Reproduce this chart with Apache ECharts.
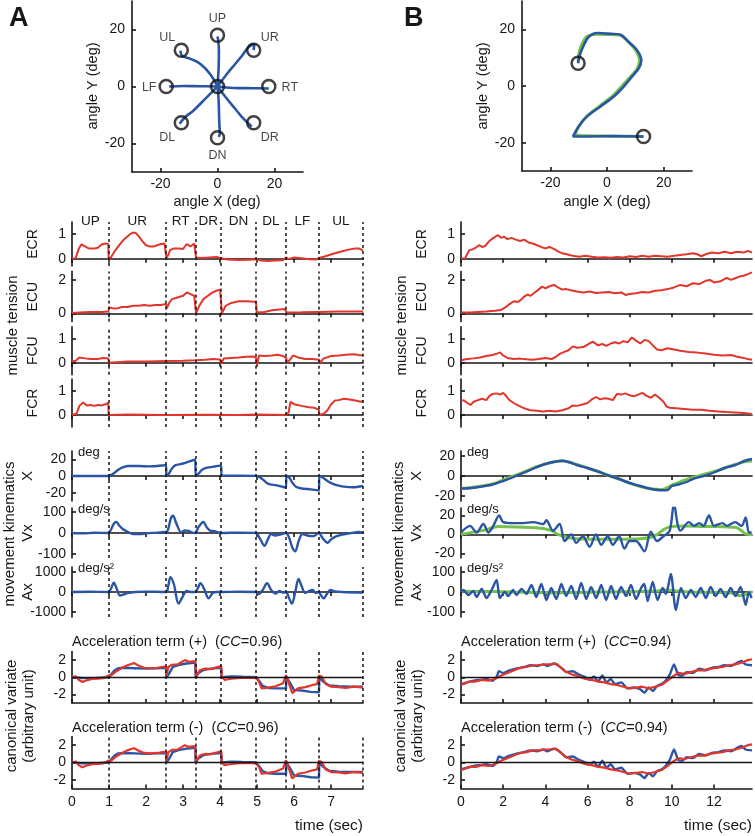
<!DOCTYPE html>
<html><head><meta charset="utf-8">
<script src="https://cdn.jsdelivr.net/npm/echarts@6.0.0/dist/echarts.min.js"></script>
<style>html,body{margin:0;padding:0;background:#fff}#c{width:755px;height:836px}</style>
</head><body><div id="c"></div>
<script>
// ---------------- DATA ----------------
// Panel A: centre-out targets (deg)
const A_TARGET_NAMES = ['UP','UR','RT','DR','DN','DL','LF','UL'];
const A_TARGETS = [[0,18],[12.7,12.7],[18,0],[12.7,-12.7],[0,-18],[-12.7,-12.7],[-18,0],[-12.7,12.7]];
const A_CENTER = [[0,0]];
const A_TRAJ_UP = [[0,0],[0.4,6.8],[0.5,12.6],[0.2,16.7],[-0.1,17.5]];
const A_TRAJ_UR = [[0,0],[3.3,4.4],[6.2,7.9],[8.6,10.8],[10.9,13.8],[12.9,14.9],[12.7,12.8]];
const A_TRAJ_RT = [[0,0],[5.7,-0.5],[12.7,-0.6],[18,-0.7]];
const A_TRAJ_DR = [[0,0],[3.3,-4.3],[6.2,-7.8],[9.1,-11.3],[12,-14]];
const A_TRAJ_DN = [[0,0],[0.4,-4.9],[0.6,-11.9],[0.8,-16.6],[0.4,-17.7]];
const A_TRAJ_DL = [[0,0],[-3.7,-3.7],[-8.4,-8.4],[-11.3,-10.7],[-13.3,-13.1]];
const A_TRAJ_LF = [[0,0],[-6,0.1],[-11.8,0.2],[-17,0]];
const A_TRAJ_UL = [[0,0],[-2.6,4.4],[-6,7.9],[-9.5,9.7],[-12.4,10.8],[-13,12.6]];

// Panel B: drawn "2"
const B_TARGETS = [[-10.2,8],[12.9,-17.8]];
const B_TRACE_GREEN = [[-10.2,8.5],[-10.0,11],[-9.0,14.5],[-7,17.5],[-3.5,18.3],[0,18.2],[4.5,18.0],[7.8,15.3],[10.2,12.5],[11.5,9.0],[10.6,6.0],[8.5,3.5],[5.5,0.3],[2.0,-3.5],[-2.5,-7.0],[-7.0,-10.5],[-9.8,-14.0],[-11.0,-16.8],[-10,-17.5],[-5,-17.6],[3,-17.7],[12.9,-17.8]];
const B_TRACE_BLUE = [[-10.2,8.0],[-9.6,10.9],[-8.2,14.4],[-6.5,17.3],[-3.5,18.7],[0,18.5],[4.7,18.1],[7.6,15.6],[10.6,12.6],[12.1,9.1],[11.2,6.2],[8.8,3.3],[5.9,-0.2],[2.4,-3.7],[-2.4,-7.3],[-7.1,-10.8],[-10,-14.3],[-12,-17.8],[-7.1,-17.8],[2.4,-17.7],[12.9,-17.8]];

// Panel A: segment boundaries (sec) and names
const A_BOUNDS = [0, 0.99, 2.54, 3.33, 4.03, 4.97, 5.78, 6.67, 7.86];
const A_SEGMENTS = ['UP','UR','RT','DR','DN','DL','LF','UL'];
const A_TIME_TICKS = [0,1,2,3,4,5,6,7];
const B_TIME_TICKS = [0,2,4,6,8,10,12];

// Panel A time series [t, value]
const A_ECR = [[0,0],[0.1,0.02],[0.18,0.4],[0.25,0.58],[0.35,0.5],[0.45,0.42],[0.6,0.42],[0.7,0.45],[0.8,0.58],[0.9,0.62],[0.98,0.6],[0.99,-0.05],[1.05,0.05],[1.15,0.3],[1.25,0.5],[1.35,0.7],[1.45,0.85],[1.55,0.98],[1.65,1.07],[1.72,1.05],[1.8,0.92],[1.9,0.72],[2.0,0.55],[2.1,0.5],[2.2,0.5],[2.3,0.55],[2.4,0.6],[2.5,0.62],[2.54,0.65],[2.55,0.02],[2.6,0.15],[2.65,0.35],[2.75,0.42],[2.9,0.42],[3.0,0.4],[3.05,0.48],[3.1,0.6],[3.2,0.5],[3.3,0.62],[3.33,0.6],[3.35,0.05],[3.5,0.03],[3.7,0.05],[3.9,0.07],[4.03,0.02],[4.2,-0.03],[4.5,-0.05],[4.8,-0.04],[4.97,-0.02],[5.1,-0.08],[5.3,-0.1],[5.5,-0.08],[5.7,-0.06],[5.78,0.05],[5.85,-0.02],[6.0,0.05],[6.2,0.02],[6.4,-0.02],[6.6,-0.03],[6.67,0.03],[6.8,0.08],[6.95,0.15],[7.1,0.22],[7.3,0.3],[7.5,0.38],[7.65,0.42],[7.75,0.42],[7.86,0.33]];
const A_ECU = [[0,0.02],[0.2,0.05],[0.5,0.08],[0.8,0.08],[0.98,0.1],[1.0,0.35],[1.1,0.3],[1.2,0.28],[1.35,0.38],[1.5,0.38],[1.65,0.45],[1.8,0.45],[1.95,0.5],[2.1,0.45],[2.25,0.5],[2.4,0.5],[2.54,0.55],[2.56,0.3],[2.62,0.6],[2.7,0.85],[2.85,0.95],[3.0,1.05],[3.1,1.25],[3.2,1.15],[3.3,1.05],[3.33,1.05],[3.35,0.0],[3.45,0.5],[3.55,0.85],[3.7,1.1],[3.8,1.25],[3.9,1.35],[4.0,1.42],[4.03,1.4],[4.05,0.0],[4.15,0.45],[4.3,0.62],[4.5,0.72],[4.7,0.72],[4.85,0.7],[4.97,0.68],[4.99,0.05],[5.2,0.08],[5.4,0.18],[5.6,0.22],[5.75,0.25],[5.78,0.22],[5.8,0.05],[6.2,0.06],[6.67,0.08],[6.7,0.1],[7.2,0.1],[7.86,0.1]];
const A_FCU = [[0,0.05],[0.1,0.08],[0.2,0.22],[0.35,0.18],[0.5,0.15],[0.7,0.15],[0.85,0.2],[0.98,0.18],[1.0,0.0],[1.5,0.05],[2.0,0.05],[2.54,0.07],[3.0,0.08],[3.33,0.1],[3.6,0.12],[3.8,0.15],[4.0,0.13],[4.03,-0.05],[4.1,0.18],[4.3,0.2],[4.5,0.22],[4.7,0.25],[4.9,0.26],[4.97,0.2],[5.0,-0.1],[5.05,0.3],[5.2,0.28],[5.4,0.3],[5.55,0.33],[5.7,0.28],[5.78,0.2],[5.82,0.0],[5.9,0.15],[5.97,0.3],[6.1,0.22],[6.3,0.15],[6.5,0.15],[6.67,0.12],[6.7,0.0],[6.8,0.18],[7.0,0.28],[7.2,0.3],[7.4,0.33],[7.6,0.35],[7.75,0.32],[7.86,0.3]];
const A_FCR = [[0,0],[0.12,0.05],[0.2,0.38],[0.3,0.52],[0.4,0.4],[0.5,0.42],[0.6,0.38],[0.7,0.42],[0.8,0.4],[0.9,0.45],[0.98,0.5],[0.99,0.0],[1.5,0.02],[2.5,0.0],[3.5,0.01],[4.5,0.0],[5.0,0.02],[5.78,0.0],[5.85,0.1],[5.9,0.55],[6.0,0.45],[6.2,0.38],[6.4,0.32],[6.55,0.3],[6.67,0.22],[6.68,0.0],[6.8,0.05],[6.9,0.2],[7.0,0.45],[7.1,0.6],[7.2,0.62],[7.35,0.68],[7.5,0.65],[7.65,0.6],[7.8,0.55],[7.86,0.6]];
const A_X = [[0,0],[0.5,0],[0.98,0],[1.05,1],[1.15,4],[1.25,7.5],[1.35,10],[1.5,12],[1.8,12],[2.1,11.5],[2.3,12],[2.54,13],[2.55,0],[2.62,3],[2.7,9],[2.8,13],[3.0,15],[3.2,18],[3.33,19.5],[3.34,0],[3.42,3],[3.5,7],[3.6,9.5],[3.8,11],[4.0,12.5],[4.03,12.5],[4.04,0.5],[4.5,0.5],[4.97,0.2],[5.05,-1],[5.15,-4],[5.25,-8],[5.35,-10],[5.5,-11],[5.65,-12.5],[5.78,-14],[5.79,0],[5.87,-2],[5.95,-8],[6.05,-13],[6.2,-15],[6.45,-16],[6.67,-17.5],[6.68,0],[6.78,-2],[6.9,-6],[7.0,-8.5],[7.2,-11.5],[7.4,-13],[7.6,-13.5],[7.86,-12]];
const A_VX = [[0,0],[0.3,-2],[0.6,1],[0.98,0],[1.05,15],[1.13,45],[1.2,53],[1.28,35],[1.38,18],[1.5,6],[1.65,-5],[1.85,-5],[2.0,-2],[2.3,2],[2.5,5],[2.54,0],[2.6,20],[2.67,70],[2.73,83],[2.82,45],[2.95,3],[3.05,12],[3.15,10],[3.25,2],[3.33,0],[3.42,30],[3.55,53],[3.63,30],[3.72,12],[3.85,9],[3.95,3],[4.03,0],[4.5,2],[4.97,0],[5.07,-25],[5.2,-62],[5.28,-35],[5.38,-5],[5.48,-12],[5.62,-8],[5.78,0],[5.87,-25],[5.95,-70],[6.03,-88],[6.12,-40],[6.22,-5],[6.35,-12],[6.52,-15],[6.67,0],[6.77,-25],[6.9,-47],[7.0,-30],[7.15,-15],[7.35,-6],[7.55,0],[7.75,5],[7.86,2]];
const A_AX = [[0,0],[0.5,10],[0.98,0],[1.05,150],[1.13,470],[1.2,200],[1.3,-175],[1.4,-120],[1.5,-50],[1.7,0],[2.0,20],[2.54,0],[2.6,300],[2.66,740],[2.75,400],[2.88,-580],[2.97,-300],[3.1,50],[3.2,0],[3.33,0],[3.4,200],[3.47,440],[3.57,150],[3.69,-320],[3.8,-50],[3.9,0],[4.03,0],[4.5,10],[4.97,0],[5.05,-100],[5.15,100],[5.27,440],[5.38,100],[5.5,-80],[5.6,50],[5.7,-30],[5.78,0],[5.85,-250],[5.94,-580],[6.03,0],[6.12,650],[6.2,300],[6.3,-50],[6.4,50],[6.5,100],[6.58,-50],[6.67,0],[6.72,-150],[6.8,-320],[6.9,-50],[6.98,100],[7.1,30],[7.3,0],[7.86,-30]];
const A_CV_BLUE = [[0,0],[0.3,-0.1],[0.6,-0.1],[0.98,0],[1.05,0.3],[1.15,0.8],[1.25,1.05],[1.4,1.1],[1.7,1.05],[2.0,1.0],[2.3,1.05],[2.54,1.1],[2.55,0],[2.62,0.4],[2.72,1.2],[2.9,1.45],[3.1,1.6],[3.33,1.7],[3.34,0],[3.42,0.5],[3.55,0.85],[3.75,1.0],[4.03,1.1],[4.04,0],[4.3,0.1],[4.6,0.05],[4.97,0],[5.05,-0.4],[5.15,-1.0],[5.3,-1.25],[5.5,-1.3],[5.78,-1.3],[5.79,0],[5.88,-0.6],[6.0,-1.5],[6.2,-1.55],[6.45,-1.7],[6.67,-1.75],[6.68,0],[6.78,-0.5],[6.95,-0.95],[7.2,-1.05],[7.5,-1.1],[7.86,-1.1]];
const A_CV_RED = [[0,0],[0.1,0.12],[0.18,-0.3],[0.28,-0.55],[0.4,-0.35],[0.55,-0.2],[0.7,-0.15],[0.85,-0.1],[0.98,0.2],[1.05,0.2],[1.2,0.7],[1.35,1.1],[1.5,1.4],[1.6,1.55],[1.68,1.65],[1.8,1.35],[1.95,1.1],[2.1,1.05],[2.3,1.1],[2.45,1.2],[2.54,1.25],[2.55,0.15],[2.6,1.2],[2.7,1.45],[2.85,1.5],[2.95,1.75],[3.05,2.0],[3.15,1.8],[3.25,1.85],[3.33,1.85],[3.35,0.1],[3.45,0.8],[3.6,1.0],[3.75,0.95],[3.9,1.15],[4.03,1.3],[4.05,0.0],[4.12,-0.3],[4.25,-0.2],[4.45,-0.1],[4.7,-0.05],[4.97,-0.1],[5.05,-0.5],[5.12,-1.3],[5.3,-1.2],[5.5,-1.05],[5.7,-0.7],[5.78,0.25],[5.85,-0.6],[5.95,-1.85],[6.1,-1.3],[6.3,-1.15],[6.5,-0.9],[6.62,-0.8],[6.67,0.2],[6.75,0.05],[6.85,-0.8],[7.0,-1.1],[7.2,-1.15],[7.4,-1.25],[7.6,-1.1],[7.75,-1.15],[7.86,-1.2]];

// Panel B time series [t, value]
const B_ECR = [[0,0],[0.2,0.02],[0.3,0.2],[0.4,0.35],[0.55,0.38],[0.7,0.45],[0.85,0.55],[1.0,0.48],[1.15,0.52],[1.3,0.68],[1.45,0.8],[1.6,0.88],[1.75,0.97],[1.9,0.85],[2.05,0.9],[2.2,0.8],[2.4,0.85],[2.6,0.78],[2.8,0.72],[3.0,0.78],[3.2,0.66],[3.4,0.62],[3.6,0.55],[3.8,0.48],[4.0,0.42],[4.2,0.48],[4.4,0.4],[4.6,0.3],[4.8,0.22],[5.0,0.18],[5.3,0.12],[5.6,0.08],[5.9,0.12],[6.2,0.08],[6.5,0.05],[6.8,0.06],[7.1,0.04],[7.4,0.07],[7.7,0.05],[8.0,0.1],[8.3,0.07],[8.6,0.12],[8.9,0.08],[9.2,0.12],[9.5,0.1],[9.8,0.08],[10.1,0.12],[10.4,0.15],[10.7,0.18],[11.0,0.22],[11.2,0.18],[11.4,0.1],[11.6,0.18],[11.9,0.25],[12.2,0.22],[12.5,0.28],[12.8,0.22],[13.1,0.28],[13.4,0.25],[13.6,0.32],[13.8,0.25]];
const B_ECU = [[0,0.05],[0.4,0.05],[0.8,0.08],[1.2,0.1],[1.6,0.15],[1.9,0.2],[2.1,0.35],[2.3,0.55],[2.5,0.72],[2.7,0.68],[2.85,0.82],[3.0,1.0],[3.15,1.12],[3.3,1.05],[3.5,1.25],[3.7,1.45],[3.85,1.6],[4.0,1.5],[4.2,1.62],[4.4,1.7],[4.6,1.55],[4.8,1.42],[5.0,1.45],[5.2,1.38],[5.5,1.3],[5.8,1.25],[6.1,1.3],[6.4,1.22],[6.7,1.25],[7.0,1.28],[7.3,1.2],[7.6,1.25],[7.8,1.1],[8.0,1.15],[8.3,1.2],[8.6,1.28],[8.9,1.25],[9.2,1.35],[9.5,1.38],[9.8,1.45],[10.1,1.55],[10.4,1.7],[10.7,1.62],[11.0,1.8],[11.3,1.75],[11.6,1.95],[11.8,2.0],[12.0,1.85],[12.3,1.92],[12.6,2.12],[12.8,2.0],[13.0,2.1],[13.2,2.2],[13.4,2.25],[13.6,2.35],[13.8,2.45]];
const B_FCU = [[0,0.1],[0.3,0.15],[0.6,0.18],[0.9,0.22],[1.2,0.28],[1.5,0.32],[1.7,0.38],[1.85,0.43],[2.0,0.3],[2.2,0.2],[2.5,0.15],[2.8,0.17],[3.1,0.14],[3.4,0.12],[3.7,0.15],[4.0,0.2],[4.3,0.15],[4.5,0.25],[4.7,0.38],[4.9,0.45],[5.1,0.52],[5.3,0.68],[5.5,0.62],[5.8,0.65],[6.0,0.75],[6.25,0.88],[6.5,0.72],[6.7,0.78],[6.9,0.7],[7.1,0.8],[7.3,0.85],[7.5,0.8],[7.7,0.9],[7.9,0.85],[8.1,1.05],[8.3,0.92],[8.5,0.8],[8.7,0.95],[8.9,0.9],[9.1,0.72],[9.3,0.55],[9.5,0.52],[9.8,0.6],[10.1,0.55],[10.4,0.5],[10.8,0.45],[11.2,0.42],[11.6,0.38],[12.0,0.33],[12.4,0.3],[12.8,0.32],[13.1,0.25],[13.4,0.2],[13.6,0.15],[13.8,0.12]];
const B_FCR = [[0,0.62],[0.15,0.6],[0.3,0.5],[0.45,0.42],[0.6,0.55],[0.8,0.62],[1.0,0.68],[1.2,0.62],[1.35,0.8],[1.5,0.88],[1.7,0.9],[1.85,0.85],[2.0,0.92],[2.15,0.78],[2.3,0.62],[2.5,0.5],[2.7,0.4],[2.9,0.32],[3.1,0.25],[3.3,0.2],[3.6,0.18],[3.9,0.15],[4.2,0.18],[4.5,0.15],[4.8,0.2],[5.1,0.28],[5.3,0.4],[5.5,0.38],[5.8,0.45],[6.0,0.5],[6.2,0.65],[6.4,0.75],[6.6,0.65],[6.8,0.7],[7.0,0.68],[7.2,0.62],[7.4,0.88],[7.6,0.85],[7.8,0.9],[8.0,0.82],[8.2,0.78],[8.4,0.85],[8.6,0.92],[8.8,0.8],[9.0,0.72],[9.2,0.85],[9.4,0.72],[9.6,0.55],[9.75,0.35],[9.9,0.3],[10.2,0.28],[10.6,0.25],[11.0,0.22],[11.4,0.22],[11.8,0.18],[12.2,0.15],[12.6,0.12],[13.0,0.1],[13.4,0.08],[13.7,0.05],[13.8,0.02]];
const B_X_GREEN = [[0,-12.5],[0.5,-11.5],[1.0,-10],[1.5,-8],[2.0,-4],[2.5,0],[3.0,4],[3.5,8.5],[4.0,12],[4.5,14.5],[4.8,15],[5.1,14],[5.5,11.5],[6.0,8],[6.5,4.5],[7.0,0.5],[7.5,-3],[8.0,-7],[8.5,-10.5],[9.0,-13],[9.5,-13.5],[9.8,-11.5],[10.0,-9],[10.5,-5],[11.0,-1.5],[11.5,1.5],[12.0,4.5],[12.5,8],[13.0,11.5],[13.5,14.5],[13.8,15]];
const B_X_BLUE = [[0,-12.5],[0.5,-12],[1.0,-10.5],[1.5,-8.5],[2.0,-5],[2.5,-1],[3.0,3.5],[3.5,8],[4.0,12],[4.5,14.5],[4.8,15.3],[5.1,14],[5.5,11],[6.0,8],[6.5,4.5],[7.0,0.5],[7.5,-3],[8.0,-7],[8.5,-10],[9.0,-12.8],[9.5,-14.3],[9.8,-14],[10.0,-10],[10.3,-8.5],[10.7,-6],[11.0,-3],[11.5,0],[12.0,3.5],[12.5,8],[13.0,11],[13.5,15.5],[13.8,17]];
const B_VX_GREEN = [[0,0],[0.5,2],[1.0,4],[1.5,7],[1.8,8.5],[2.2,8],[3.0,7.5],[3.8,6.5],[4.3,4],[4.6,0],[5.0,-3],[5.5,-4.5],[6.5,-5],[7.5,-5],[8.5,-4.5],[9.0,-3],[9.3,0],[9.6,5],[9.9,8],[10.5,9],[11.5,8.5],[12.5,8],[13.0,7.5],[13.3,4],[13.5,0.5],[13.8,0]];
const B_VX_BLUE = [[0,2],[0.43,9],[0.74,2],[1.06,11],[1.3,2],[1.53,9],[1.81,20],[2.0,13],[2.47,12],[2.95,12],[3.42,13],[3.9,11],[4.05,15],[4.36,4],[4.68,11],[4.91,-7],[5.23,0],[5.46,-9],[5.78,-2],[6.1,-13],[6.4,0],[6.65,-11],[6.96,-2],[7.2,-11],[7.5,-2],[7.75,-15],[8.0,-7],[8.3,-7],[8.7,-18],[9.0,3],[9.3,-7],[9.6,-2],[9.9,4],[10.1,33],[10.27,11],[10.4,4],[10.8,13],[11.05,9],[11.3,12],[11.5,9],[11.76,20],[12.0,9],[12.4,12],[12.6,9],[13.0,13],[13.3,9],[13.5,18],[13.65,2],[13.78,2]];
const B_AX_GREEN = [[0,5],[0.5,3],[1.5,2],[2.5,0],[3.5,-2],[4.5,-4],[5.5,-2],[6.5,0],[7.5,1],[8.5,2],[9.3,5],[9.8,10],[10.2,5],[10.8,0],[12,-2],[12.8,-5],[13.2,-18],[13.4,-15],[13.6,-5],[13.8,0]];
const B_AX_BLUE = [[0,0],[0.11,10],[0.35,-15],[0.58,5],[0.74,-25],[0.98,15],[1.21,-30],[1.45,10],[1.69,60],[1.84,-30],[2.08,0],[2.24,-20],[2.47,10],[2.63,-15],[2.87,15],[3.10,-10],[3.34,35],[3.57,-25],[3.81,40],[4.05,-40],[4.28,20],[4.52,-35],[4.76,40],[4.99,-20],[5.23,30],[5.46,-35],[5.70,45],[5.94,-35],[6.17,25],[6.41,-30],[6.65,35],[6.88,-40],[7.12,30],[7.35,-35],[7.59,25],[7.83,-20],[8.06,35],[8.30,-35],[8.54,20],[8.69,40],[8.85,-45],[9.09,50],[9.32,-40],[9.56,20],[9.72,-10],[9.95,90],[10.19,-90],[10.43,20],[10.66,-30],[10.90,10],[11.13,-25],[11.37,20],[11.61,-30],[11.84,25],[12.08,-20],[12.31,15],[12.55,-25],[12.79,20],[13.02,-20],[13.26,25],[13.50,-65],[13.65,0],[13.78,-30]];
const B_CV_BLUE = [[0,-0.8],[0.3,-0.6],[0.6,-0.4],[0.9,-0.3],[1.2,-0.2],[1.5,-0.4],[1.7,0.1],[1.8,0.7],[2.0,0.5],[2.3,0.8],[2.6,1.0],[3.0,1.2],[3.3,1.4],[3.6,1.3],[3.9,1.5],[4.1,1.3],[4.4,1.6],[4.6,1.4],[4.8,1.0],[5.0,0.6],[5.3,0.7],[5.6,0.3],[5.9,0.0],[6.1,-0.3],[6.3,0.1],[6.5,-0.5],[6.7,0.2],[6.9,-0.6],[7.1,-0.2],[7.3,-0.8],[7.6,-0.6],[7.9,-1.3],[8.2,-1.2],[8.5,-1.4],[8.7,-1.8],[8.9,-1.2],[9.1,-1.6],[9.3,-1.0],[9.5,-0.8],[9.7,-0.4],[9.9,0.3],[10.1,1.5],[10.3,0.3],[10.5,0.2],[10.7,0.6],[11.0,0.5],[11.3,1.0],[11.6,0.8],[11.9,1.1],[12.2,1.2],[12.5,1.4],[12.8,1.3],[13.1,1.7],[13.3,1.9],[13.5,1.5],[13.8,1.4]];
const B_CV_RED = [[0,-0.9],[0.4,-0.5],[0.7,-0.5],[1.0,-0.3],[1.3,-0.4],[1.6,-0.2],[1.9,0.2],[2.2,0.5],[2.5,0.8],[2.8,1.1],[3.1,1.2],[3.4,1.4],[3.7,1.4],[4.0,1.5],[4.3,1.5],[4.5,1.6],[4.7,1.2],[5.0,0.6],[5.3,0.3],[5.6,0.1],[5.9,-0.2],[6.2,-0.3],[6.5,-0.5],[6.8,-0.6],[7.1,-0.8],[7.4,-0.9],[7.7,-1.1],[8.0,-1.3],[8.3,-1.2],[8.6,-1.1],[8.9,-1.3],[9.2,-1.1],[9.5,-0.9],[9.8,-0.4],[10.0,0.0],[10.3,0.5],[10.6,0.4],[10.9,0.6],[11.2,0.8],[11.5,0.8],[11.8,1.0],[12.1,1.1],[12.4,1.2],[12.7,1.4],[13.0,1.5],[13.3,1.7],[13.6,2.0],[13.8,2.1]];

// ---------------- STYLE / LAYOUT ----------------
const FONT = '"Liberation Sans", Arial, sans-serif';
const INK = '#161616';
const RED = '#e2352b', BLUE = '#2a55a5', GREEN = '#74c24b';
const AXL = {color: INK, width: 1.6};
const LBL = {fontSize: 14, color: INK, fontFamily: FONT, formatter: v => String(v)};

const option = {animation: false, backgroundColor: '#fff', grid: [], xAxis: [], yAxis: [], series: [], graphic: []};

function addTrajGrid(left, top, size) {
  const gi = option.grid.length;
  option.grid.push({left: left, top: top, width: size, height: size});
  const ticks = [-20, 0, 20];
  option.xAxis.push({gridIndex: gi, type: 'value', min: -30, max: 30,
    axisLine: {onZero: false, lineStyle: AXL},
    axisTick: {inside: true, length: 4, customValues: ticks, lineStyle: AXL},
    axisLabel: Object.assign({customValues: ticks, margin: 5}, LBL), splitLine: {show: false}});
  option.yAxis.push({gridIndex: gi, type: 'value', min: -30, max: 30,
    axisLine: {show: true, onZero: false, lineStyle: AXL},
    axisTick: {show: true, inside: true, length: 4, customValues: ticks, lineStyle: AXL},
    axisLabel: Object.assign({customValues: ticks, margin: 7}, LBL), splitLine: {show: false}});
  return gi;
}

function addPanel(left, width, row, xmax, xticks, showX) {
  const gi = option.grid.length;
  option.grid.push({left: left, top: row.top, width: width, height: row.h});
  option.xAxis.push({gridIndex: gi, type: 'value', min: 0, max: xmax,
    axisLine: {onZero: row.zero, lineStyle: AXL},
    axisTick: {show: true, inside: !row.zero, length: 4, customValues: xticks, lineStyle: AXL},
    axisLabel: Object.assign({show: showX, customValues: xticks, margin: 7}, LBL),
    splitLine: {show: false}});
  option.yAxis.push({gridIndex: gi, type: 'value', min: row.min, max: row.max,
    axisLine: {show: true, onZero: false, lineStyle: AXL},
    axisTick: {show: true, inside: true, length: 4, customValues: row.ticks, lineStyle: AXL},
    axisLabel: Object.assign({customValues: row.ticks, margin: 6}, LBL),
    splitLine: {show: false}});
  return gi;
}

function line(gi, data, color, width, smooth, z, markLine) {
  const s = {type: 'line', xAxisIndex: gi, yAxisIndex: gi, data: data, showSymbol: false, symbol: 'none',
    smooth: smooth || false, lineStyle: {color: color, width: width}, z: z || 2, silent: true};
  if (markLine) s.markLine = markLine;
  option.series.push(s);
}

function vlines(bounds, zeroLine) {
  const d = [];
  if (bounds) bounds.slice(1).forEach(b => d.push({xAxis: b, lineStyle: {type: [3, 3], color: INK, width: 1.5}}));
  if (zeroLine) d.push({yAxis: 0, lineStyle: {type: 'solid', color: INK, width: 1.4}});
  return {silent: true, symbol: 'none', label: {show: false}, data: d, animation: false};
}

// ---- top trajectory panels ----
const gA = addTrajGrid(132, 1, 171);
[A_TRAJ_UP, A_TRAJ_UR, A_TRAJ_RT, A_TRAJ_DR, A_TRAJ_DN, A_TRAJ_DL, A_TRAJ_LF, A_TRAJ_UL].forEach(tr => line(gA, tr, BLUE, 2.6, 0.4, 2));
const LABEL_OFF = {UP: [0, -17], UR: [16, -13], RT: [21, 1], DR: [16, 15], DN: [0, 18], DL: [-14, 15], LF: [-17, 1], UL: [-14, -13]};
const circleStyle = {color: 'rgba(0,0,0,0)', borderColor: '#111', borderWidth: 2.5};
option.series.push({type: 'scatter', xAxisIndex: gA, yAxisIndex: gA, symbolSize: 13, itemStyle: circleStyle, z: 3, silent: true,
  data: A_TARGETS.map((p, i) => ({value: p, name: A_TARGET_NAMES[i],
    label: {show: true, formatter: A_TARGET_NAMES[i], position: 'inside', offset: LABEL_OFF[A_TARGET_NAMES[i]], fontSize: 12.5, color: INK, fontFamily: FONT}}))});
option.series.push({type: 'scatter', xAxisIndex: gA, yAxisIndex: gA, symbolSize: 13, itemStyle: circleStyle, z: 3, silent: true, data: A_CENTER});

const gB = addTrajGrid(522, 1, 170);
line(gB, B_TRACE_GREEN, GREEN, 3, 0.3, 2);
line(gB, B_TRACE_BLUE, BLUE, 2.6, 0.3, 3);
option.series.push({type: 'scatter', xAxisIndex: gB, yAxisIndex: gB, symbolSize: 13, itemStyle: circleStyle, z: 4, silent: true, data: B_TARGETS});

// ---- time-series panels ----
const ROWS_A = {
  ECR: {top: 222, h: 44, min: -0.3, max: 1.5, ticks: [0, 1], zero: true},
  ECU: {top: 271.6, h: 50, min: -0.5, max: 2.5, ticks: [0, 2], zero: true},
  FCU: {top: 326.7, h: 48, min: -0.5, max: 1.5, ticks: [0, 1], zero: true},
  FCR: {top: 379, h: 48, min: -0.5, max: 1.5, ticks: [0, 1], zero: true},
  X:   {top: 451, h: 50, min: -30, max: 30, ticks: [-20, 0, 20], zero: true},
  VX:  {top: 508, h: 50, min: -120, max: 120, ticks: [-100, 0, 100], zero: true},
  AX:  {top: 567, h: 50, min: -1250, max: 1250, ticks: [-1000, 0, 1000], zero: true},
  CVP: {top: 651.5, h: 51.5, min: -3, max: 3, ticks: [-2, 0, 2], zero: false},
  CVM: {top: 736.5, h: 52, min: -3, max: 3, ticks: [-2, 0, 2], zero: false}
};
const ROWS_B = Object.assign({}, ROWS_A, {
  X:  {top: 451, h: 50, min: -25, max: 25, ticks: [-20, 0, 20], zero: true},
  VX: {top: 508, h: 50, min: -25, max: 28, ticks: [-20, 0, 20], zero: true},
  AX: {top: 567, h: 50, min: -125, max: 125, ticks: [-100, 0, 100], zero: true}
});

const AL = 72, AW = 291, BL = 461, BW = 291;
const AXMAX = A_BOUNDS[A_BOUNDS.length - 1], BXMAX = 13.8;
const gi = {A: {}, B: {}};
Object.keys(ROWS_A).forEach(k => {
  gi.A[k] = addPanel(AL, AW, ROWS_A[k], AXMAX, A_TIME_TICKS, k === 'CVM');
  gi.B[k] = addPanel(BL, BW, ROWS_B[k], BXMAX, B_TIME_TICKS, k === 'CVM');
});

// Panel A series
line(gi.A.ECR, A_ECR, RED, 2, false, 3, vlines(A_BOUNDS));
line(gi.A.ECU, A_ECU, RED, 2, false, 3, vlines(A_BOUNDS));
line(gi.A.FCU, A_FCU, RED, 2, false, 3, vlines(A_BOUNDS));
line(gi.A.FCR, A_FCR, RED, 2, false, 3, vlines(A_BOUNDS));
line(gi.A.X, A_X, BLUE, 2.4, 0.2, 3, vlines(A_BOUNDS));
line(gi.A.VX, A_VX, BLUE, 2.4, 0.3, 3, vlines(A_BOUNDS));
line(gi.A.AX, A_AX, BLUE, 2.4, 0.35, 3, vlines(A_BOUNDS));
line(gi.A.CVP, A_CV_BLUE, BLUE, 2.4, false, 2, vlines(A_BOUNDS, true));
line(gi.A.CVP, A_CV_RED, RED, 2.2, false, 3);
line(gi.A.CVM, A_CV_BLUE, BLUE, 2.4, false, 2, vlines(A_BOUNDS, true));
line(gi.A.CVM, A_CV_RED, RED, 2.2, false, 3);

// Panel B series
line(gi.B.ECR, B_ECR, RED, 2, false, 3);
line(gi.B.ECU, B_ECU, RED, 2, false, 3);
line(gi.B.FCU, B_FCU, RED, 2, false, 3);
line(gi.B.FCR, B_FCR, RED, 2, false, 3);
line(gi.B.X, B_X_GREEN, GREEN, 3, 0.4, 2);
line(gi.B.X, B_X_BLUE, BLUE, 2.4, 0.3, 3);
line(gi.B.VX, B_VX_GREEN, GREEN, 3, 0.4, 2);
line(gi.B.VX, B_VX_BLUE, BLUE, 2.4, 0.3, 3);
line(gi.B.AX, B_AX_GREEN, GREEN, 3, 0.4, 2);
line(gi.B.AX, B_AX_BLUE, BLUE, 2.4, 0.25, 3);
line(gi.B.CVP, B_CV_BLUE, BLUE, 2.4, 0.2, 2, vlines(null, true));
line(gi.B.CVP, B_CV_RED, RED, 2.2, false, 3);
line(gi.B.CVM, B_CV_BLUE, BLUE, 2.4, 0.2, 2, vlines(null, true));
line(gi.B.CVM, B_CV_RED, RED, 2.2, false, 3);

// ---------------- TEXT ----------------
function txt(x, y, text, o) {
  o = o || {};
  const style = {text: text, fill: INK, font: (o.weight || 'normal') + ' ' + (o.size || 14) + 'px ' + FONT,
    align: o.align || 'center', verticalAlign: o.va || 'middle'};
  if (o.rich) style.rich = o.rich;
  return {type: 'text', x: x, y: y, rotation: o.rot ? Math.PI / 2 : 0, silent: true, style: style, z: 10};
}
const G = option.graphic;
G.push(txt(9, 19, 'A', {size: 27, weight: 'bold', align: 'left'}));
G.push(txt(404, 19, 'B', {size: 27, weight: 'bold', align: 'left'}));
G.push(txt(217, 202, 'angle X (deg)', {size: 14.5}));
G.push(txt(607, 202, 'angle X (deg)', {size: 14.5}));
G.push(txt(93, 86, 'angle Y (deg)', {size: 14.5, rot: true}));
G.push(txt(483, 86, 'angle Y (deg)', {size: 14.5, rot: true}));

function midY(r) { return r.top + r.h / 2; }
[['A', AL, ROWS_A, 0], ['B', BL, ROWS_B, 1]].forEach(([p, L, R, isB]) => {
  const o = isB ? 389 : 0;
  G.push(txt(33 + o, midY(R.ECR), 'ECR', {rot: true}));
  G.push(txt(33 + o, midY(R.ECU), 'ECU', {rot: true}));
  G.push(txt(33 + o, midY(R.FCU), 'FCU', {rot: true}));
  G.push(txt(33 + o, midY(R.FCR), 'FCR', {rot: true}));
  G.push(txt(13 + o, (R.ECR.top + R.FCR.top + R.FCR.h) / 2 + 1, 'muscle tension', {size: 15, rot: true}));
  G.push(txt(28 + o, midY(R.X), 'X', {rot: true, size: 15}));
  G.push(txt(28 + o, midY(R.VX), 'Vx', {rot: true, size: 15}));
  G.push(txt(28 + o, midY(R.AX), 'Ax', {rot: true, size: 15}));
  G.push(txt(10 + o, (R.X.top + R.AX.top + R.AX.h) / 2, 'movement kinematics', {size: 15, rot: true}));
  G.push(txt(12 + o, 716, 'canonical variate', {size: 15, rot: true}));
  G.push(txt(29 + o, 716, '(arbitrary unit)', {size: 15, rot: true}));
  G.push(txt(L + 6, R.X.top + 1, 'deg', {size: 13, align: 'left'}));
  G.push(txt(L + 6, R.VX.top + 1, 'deg/s', {size: 13, align: 'left'}));
  G.push(txt(L + 6, R.AX.top + 1, 'deg/s\u00b2', {size: 13, align: 'left'}));
  const cc = isB ? '0.94' : '0.96';
  const rich = {n: {fontSize: 14.5, fontFamily: FONT, fill: INK, color: INK}, i: {fontSize: 14.5, fontFamily: FONT, fontStyle: 'italic', fill: INK, color: INK}};
  G.push(txt(L, R.CVP.top - 10, '{n|Acceleration term (+)  (}{i|CC}{n|=' + cc + ')}', {align: 'left', rich: rich}));
  G.push(txt(L, R.CVM.top - 9, '{n|Acceleration term (-)  (}{i|CC}{n|=' + cc + ')}', {align: 'left', rich: rich}));
  G.push(txt(L + (isB ? BW : AW), 826, 'time (sec)', {size: 15.5, align: 'right'}));
});

const chart = echarts.init(document.getElementById('c'), null, {renderer: 'canvas'});
chart.setOption(option);

// segment labels for panel A, positioned through the ECR axis scale
const segTexts = [];
for (let i = 0; i < A_SEGMENTS.length; i++) {
  const mid = (A_BOUNDS[i] + A_BOUNDS[i + 1]) / 2;
  const px = chart.convertToPixel({xAxisIndex: gi.A.ECR}, mid);
  segTexts.push(txt(px, 221, A_SEGMENTS[i], {size: 13.5}));
}
chart.setOption({graphic: option.graphic.concat(segTexts)});
</script></body></html>
